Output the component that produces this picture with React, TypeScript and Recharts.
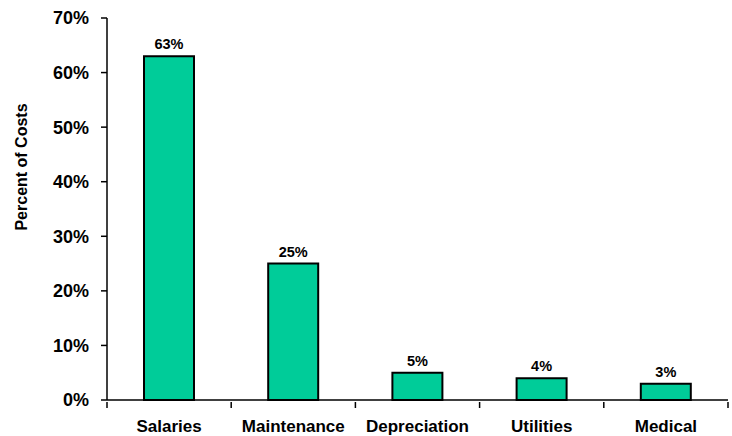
import { Bar, BarChart, LabelList, XAxis, YAxis } from "recharts";

const categories = ["Salaries", "Maintenance", "Depreciation", "Utilities", "Medical"];
const shares = [63, 25, 5, 4, 3];
const yTicks = [0, 10, 20, 30, 40, 50, 60, 70];

const data = categories.map((name, i) => ({ name, value: shares[i] }));

const FONT = "'Liberation Sans', Arial, sans-serif";

function CategoryTick(props: any) {
  const { x, y, payload, index } = props;
  const half = payload?.offset ?? 62.1;
  return (
    <g>
      <line x1={x - half} y1={y - 8} x2={x - half} y2={y - 2} stroke="#000" strokeWidth={1.5} />
      {index === categories.length - 1 && (
        <line x1={x + half} y1={y - 8} x2={x + half} y2={y - 2} stroke="#000" strokeWidth={1.5} />
      )}
      <text x={x} y={y + 22} textAnchor="middle" fontFamily={FONT} fontWeight="bold" fontSize={17} fill="#000">
        {payload.value}
      </text>
    </g>
  );
}

export default function App() {
  return (
    <div style={{ position: "absolute", left: 0, top: 0, background: "#fff" }}>
      <BarChart width={732} height={436} data={data} margin={{ top: 18, right: 4, left: 0, bottom: 0 }}>
        <XAxis
          dataKey="name"
          height={36}
          tickLine={false}
          tickSize={8}
          axisLine={{ stroke: "#000", strokeWidth: 1.5 }}
          tick={<CategoryTick />}
          interval={0}
        />
        <YAxis
          width={107}
          domain={[0, 70]}
          ticks={yTicks}
          interval={0}
          tickFormatter={(v: number) => `${v}%`}
          tickSize={6}
          tickMargin={12}
          axisLine={{ stroke: "#000", strokeWidth: 1.5 }}
          tickLine={{ stroke: "#000", strokeWidth: 1.5 }}
          tick={{ fill: "#000", fontFamily: FONT, fontWeight: "bold", fontSize: 18 }}
          label={() => (
            <text
              x={21}
              y={167}
              transform="rotate(-90 21 167)"
              textAnchor="middle"
              dominantBaseline="central"
              fontFamily={FONT}
              fontWeight="bold"
              fontSize={16}
              fill="#000"
            >
              Percent of Costs
            </text>
          )}
        />
        <Bar dataKey="value" fill="#00CC99" stroke="#000" strokeWidth={2} barSize={50} isAnimationActive={false}>
          <LabelList
            dataKey="value"
            position="top"
            offset={7}
            formatter={(v: any) => `${v}%`}
            style={{ fill: "#000", fontFamily: FONT, fontWeight: "bold", fontSize: 14.5 }}
          />
        </Bar>
      </BarChart>
    </div>
  );
}
